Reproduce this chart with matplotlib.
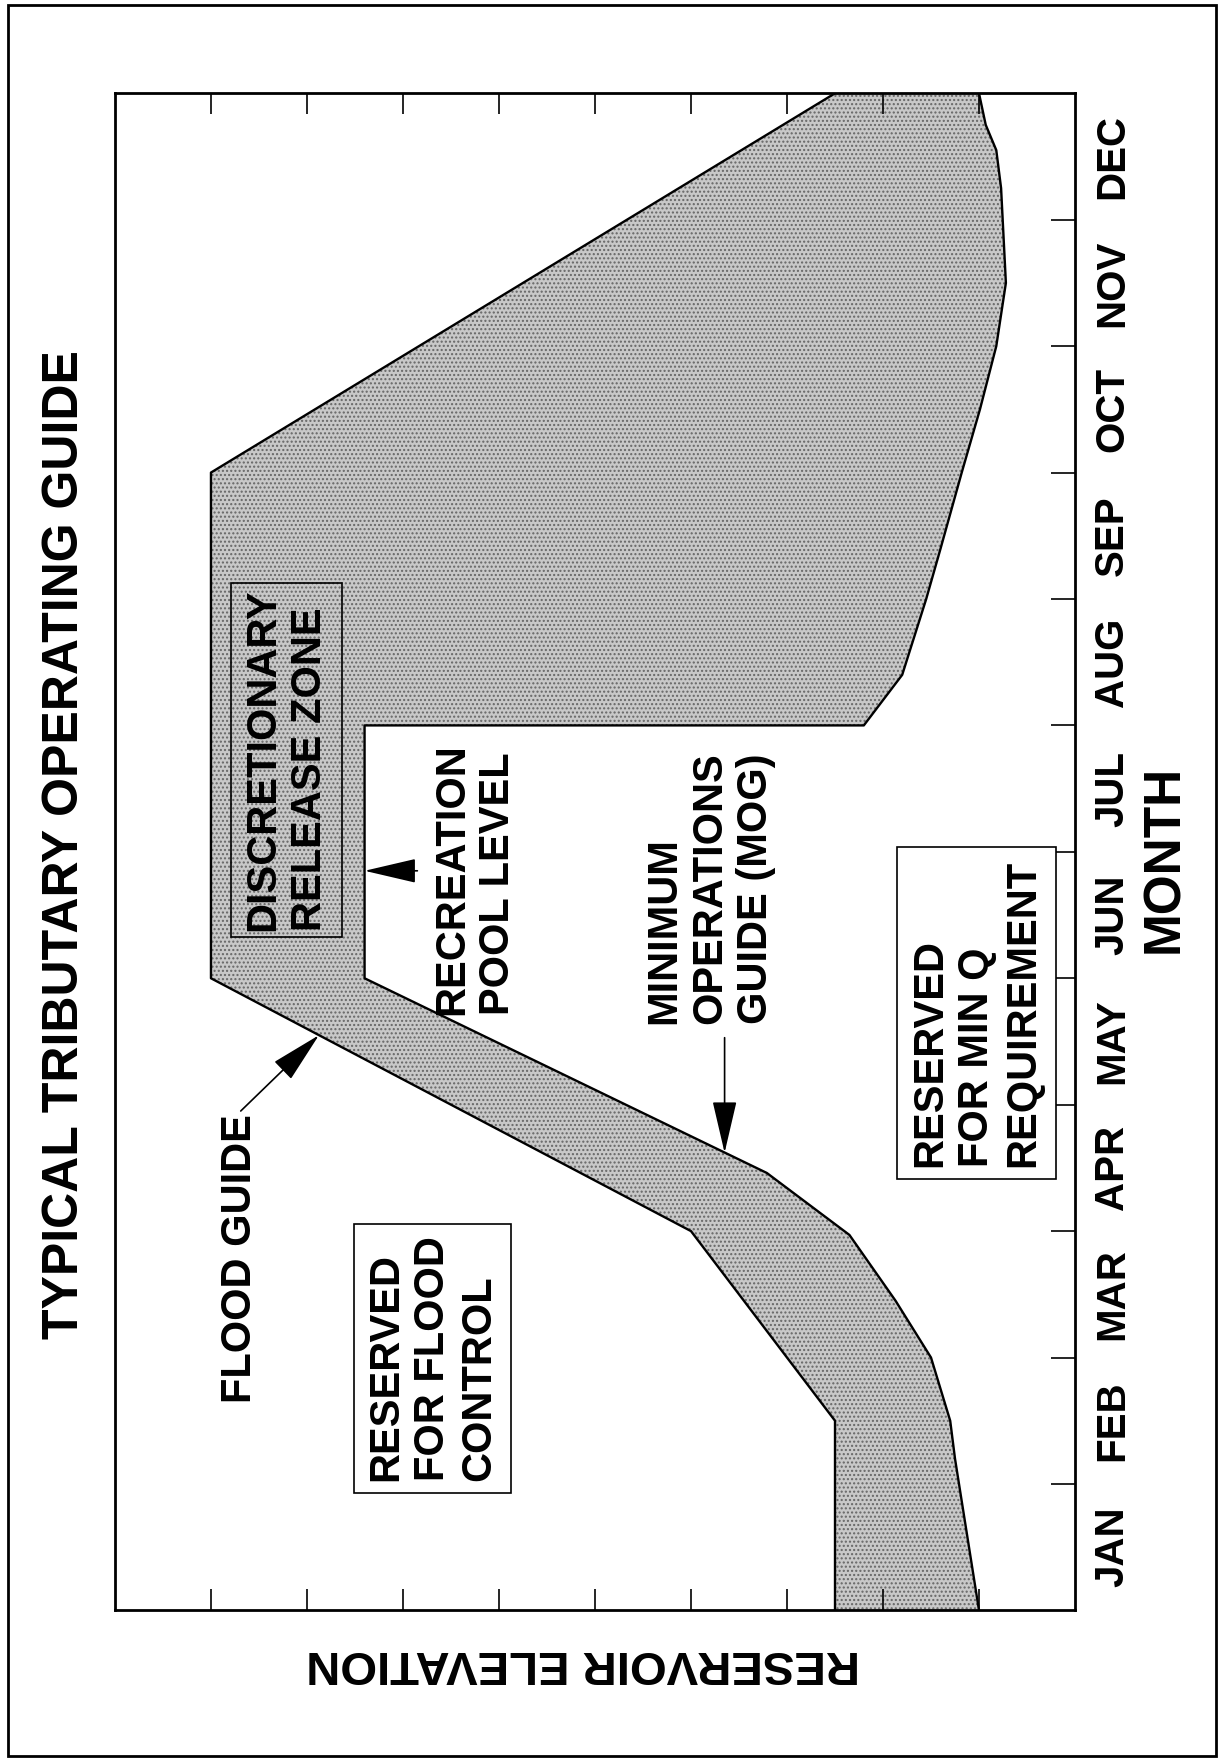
import matplotlib.pyplot as plt
from matplotlib.patches import Rectangle

plt.rcParams['font.family'] = ['Liberation Sans', 'DejaVu Sans']
plt.rcParams['font.weight'] = 'bold'

months = ['JAN', 'FEB', 'MAR', 'APR', 'MAY', 'JUN', 'JUL', 'AUG', 'SEP', 'OCT', 'NOV', 'DEC']

# flood guide = top of the discretionary zone (month position, relative elevation 0-10)
flood_month = [0.0, 1.5, 3.0, 5.0, 9.0, 12.0]
flood_elev = [2.5, 2.5, 4.0, 9.0, 9.0, 2.5]

# minimum operations guide (MOG), with the recreation pool notch Jun-Jul
mog_month = [0.0, 1.2, 1.5, 2.0, 2.45, 2.97, 3.46, 5.0, 7.0, 7.0, 7.4, 8.0, 8.4,
             9.0, 9.5, 10.0, 10.5, 11.25, 11.55, 11.75, 12.0]
mog_elev = [1.0, 1.25, 1.3, 1.5, 1.87, 2.35, 3.21, 7.4, 7.4, 2.2, 1.8, 1.55, 1.4,
            1.18, 0.99, 0.82, 0.72, 0.77, 0.82, 0.93, 1.0]

fig = plt.figure(figsize=(12.23, 17.6), dpi=100)
ax = fig.add_axes([0.094, 0.085, 0.785, 0.862])

# shaded zone between flood guide and MOG
zone_x = flood_elev + mog_elev[::-1]
zone_y = flood_month + mog_month[::-1]
ax.fill(zone_x, zone_y, facecolor='#c8c8c8', edgecolor='none', zorder=1)
ax.fill(zone_x, zone_y, facecolor='none', edgecolor='#666666', hatch='....', linewidth=0, zorder=1)
ax.plot(flood_elev, flood_month, color='black', lw=1.7, zorder=2)
ax.plot(mog_elev, mog_month, color='black', lw=1.7, zorder=2)

ax.set_xlim(10, 0)
ax.set_ylim(0, 12)

ax.set_xticks(range(1, 10))
ax.tick_params(axis='x', direction='in', length=15, width=1.2, top=True, bottom=True,
               labelbottom=False, labeltop=False)
ax.set_yticks(range(1, 12))
ax.set_yticks([i + 0.5 for i in range(12)], labels=months, minor=True)
ax.tick_params(axis='y', which='major', direction='in', length=17, width=1.2,
               left=False, right=True, labelleft=False, labelright=False)
ax.tick_params(axis='y', which='minor', length=0, left=False, right=False,
               labelleft=False, labelright=True, labelrotation=90, labelsize=29, pad=13)
for lab in ax.get_yticklabels(minor=True):
    lab.set_va('center')
for sp in ax.spines.values():
    sp.set_linewidth(2)

arrow = dict(arrowstyle='-|>,head_length=1.5,head_width=0.35', color='black', lw=1.2,
             mutation_scale=22, shrinkA=0, shrinkB=0)

# labelled boxes: (elev_lo, elev_hi, month_lo, month_hi)
boxes = [
    ('DISCRETIONARY\nRELEASE ZONE', (7.63, 8.79, 5.33, 8.13), 'none'),
    ('RESERVED\nFOR FLOOD\nCONTROL', (5.87, 7.51, 0.93, 3.06), 'white'),
    ('RESERVED\nFOR MIN Q\nREQUIREMENT', (0.2, 1.85, 3.41, 6.04), 'white'),
]
for label, (e0, e1, m0, m1), fc in boxes:
    ax.add_patch(Rectangle((e0, m0), e1 - e0, m1 - m0, facecolor=fc, edgecolor='black',
                           lw=1.2, zorder=3))
    ax.text((e0 + e1) / 2, (m0 + m1) / 2, label, rotation=90, ha='center', va='center',
            multialignment='left', fontsize=30, linespacing=1.2, zorder=4)

ax.text(8.70, 2.785, 'FLOOD GUIDE', rotation=90, ha='center', va='center', fontsize=30)
ax.annotate('', xy=(7.875, 4.55), xytext=(8.69, 3.95), arrowprops=arrow)

ax.text(6.25, 4.71, 'RECREATION\nPOOL LEVEL', rotation=90, ha='center', va='bottom',
        multialignment='left', fontsize=30, linespacing=1.2)
ax.annotate('', xy=(7.4, 5.85), xytext=(6.85, 5.85), arrowprops=arrow)

ax.text(3.80, 4.64, 'MINIMUM\nOPERATIONS\nGUIDE (MOG)', rotation=90, ha='center', va='bottom',
        multialignment='left', fontsize=30, linespacing=1.2)
ax.annotate('', xy=(3.65, 3.62), xytext=(3.65, 4.53), arrowprops=arrow)

# titles around the rotated chart
fig.text(0.053, 0.52, 'TYPICAL TRIBUTARY OPERATING GUIDE', rotation=90,
         ha='center', va='center', fontsize=36)
fig.text(0.477, 0.055, 'RESERVOIR ELEVATION', rotation=180, ha='center', va='center', fontsize=34)
fig.text(0.952, 0.512, 'MONTH', rotation=90, ha='center', va='center', fontsize=37)

fig.patches.append(Rectangle((0.0065, 0.002), 0.9875, 0.995, transform=fig.transFigure,
                             fill=False, lw=2, color='black'))

fig.savefig('out.png', dpi=100)
